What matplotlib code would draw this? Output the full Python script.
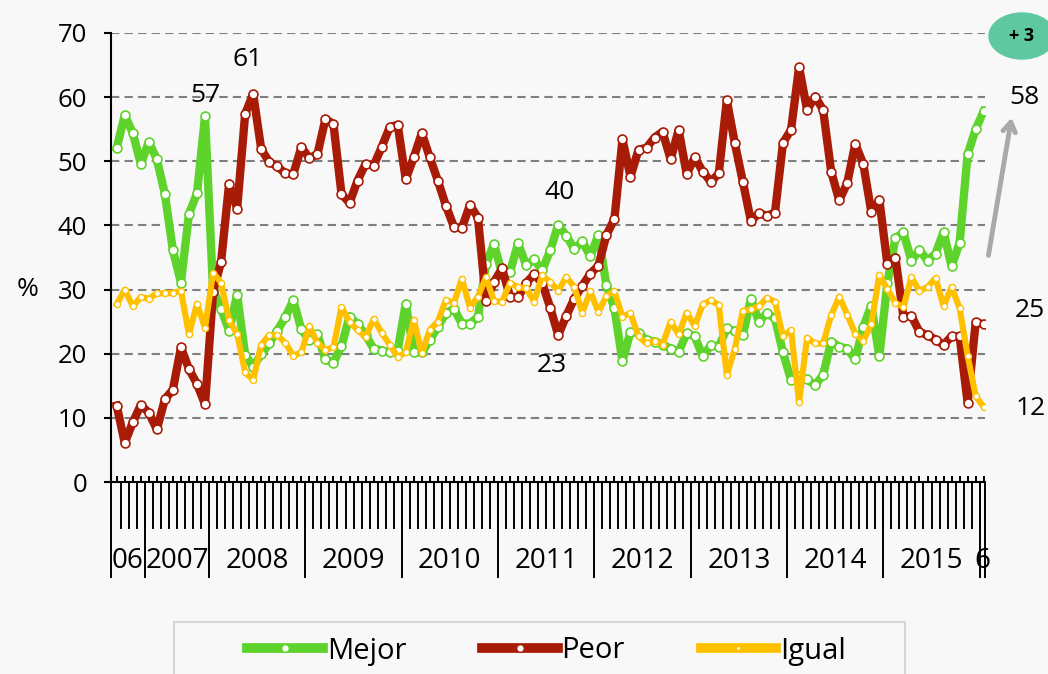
import matplotlib.pyplot as plt
import numpy as np
from matplotlib.lines import Line2D
from matplotlib.patches import Ellipse, Rectangle
from matplotlib.transforms import blended_transform_factory

plt.rcParams['font.family'] = ['Open Sans', 'DejaVu Sans']

# monthly points, Sep 2006 .. Jan 2016 (2007 has only 8 surveys)
year_labels = ['06', '2007', '2008', '2009', '2010', '2011', '2012', '2013', '2014', '2015', '6']
points_per_year = [4, 8, 12, 12, 12, 12, 12, 12, 12, 12, 1]

mejor = [52.1, 57.2, 54.4, 49.6, 53.0, 50.3, 44.9, 36.1, 31.1, 41.8, 45.0, 57.0,
         30.0, 27.0, 23.6, 29.2, 19.8, 18.0, 19.9, 21.6, 23.6, 25.7, 28.3, 23.8,
         22.1, 23.0, 19.1, 18.6, 21.2, 25.8, 24.6, 22.9, 20.8, 20.5, 20.2, 20.5,
         27.8, 20.3, 20.2, 22.1, 24.2, 26.3, 27.0, 24.7, 24.7, 25.7, 34.0, 37.1,
         32.5, 32.8, 37.2, 33.8, 34.7, 33.0, 36.1, 40.1, 38.4, 36.3, 37.5, 35.2,
         38.5, 30.7, 27.1, 18.8, 23.4, 23.2, 22.1, 21.9, 21.4, 20.8, 20.3, 23.2,
         22.7, 19.6, 21.3, 21.1, 24.0, 23.5, 22.9, 28.6, 25.0, 26.3, 25.5, 20.2,
         15.9, 16.5, 16.0, 15.1, 16.7, 21.9, 21.1, 20.8, 19.1, 24.2, 27.5, 19.6,
         31.0, 38.0, 38.9, 34.5, 36.2, 34.5, 35.6, 39.0, 33.6, 37.3, 51.1, 55.0,
         57.8]
peor = [11.9, 6.1, 9.3, 12.0, 10.8, 8.2, 12.9, 14.4, 21.0, 17.6, 15.3, 12.1,
        29.6, 34.3, 46.5, 42.6, 57.4, 60.5, 51.9, 49.9, 49.2, 48.1, 48.0, 52.2,
        50.5, 51.1, 56.6, 55.8, 44.9, 43.5, 47.0, 49.6, 49.3, 52.2, 55.3, 55.7,
        47.2, 50.6, 54.4, 50.6, 47.0, 43.1, 39.8, 39.6, 43.2, 41.2, 28.2, 31.2,
        33.3, 28.9, 28.8, 31.0, 32.4, 31.0, 27.2, 22.9, 25.9, 28.6, 30.6, 32.5,
        33.7, 38.5, 41.0, 53.4, 47.6, 51.8, 52.1, 53.7, 54.6, 50.3, 54.9, 48.0,
        50.6, 48.4, 46.8, 48.1, 59.5, 52.8, 46.8, 40.7, 41.9, 41.5, 42.0, 52.9,
        54.9, 64.7, 58.0, 60.1, 58.0, 48.4, 43.9, 46.6, 52.7, 49.6, 42.1, 44.0,
        34.0, 35.0, 25.8, 25.9, 23.4, 22.9, 22.2, 21.4, 22.7, 22.7, 12.3, 24.9,
        24.6]
igual = [27.7, 30.0, 27.4, 28.8, 28.6, 29.4, 29.4, 29.5, 29.8, 23.0, 27.8, 24.0,
         32.6, 31.1, 25.2, 23.1, 17.1, 15.9, 21.4, 22.9, 22.9, 21.7, 19.7, 20.2,
         24.3, 21.7, 20.6, 21.0, 27.3, 25.0, 23.7, 22.6, 25.4, 23.3, 21.4, 19.5,
         20.2, 25.3, 20.1, 23.7, 25.0, 28.4, 27.9, 31.7, 27.2, 28.9, 31.9, 28.2,
         28.1, 31.0, 30.4, 30.2, 28.1, 32.2, 31.2, 29.8, 32.0, 30.4, 26.4, 29.7,
         26.5, 29.0, 29.7, 25.8, 26.3, 22.7, 21.6, 22.0, 21.4, 25.0, 23.0, 26.4,
         24.3, 27.7, 28.3, 27.6, 16.7, 20.8, 26.7, 26.9, 27.4, 28.7, 28.1, 22.7,
         23.7, 12.4, 22.5, 21.6, 21.6, 26.0, 28.9, 26.1, 23.1, 22.0, 24.6, 32.3,
         30.1, 27.9, 27.3, 31.9, 29.8, 30.4, 31.8, 27.4, 30.4, 27.1, 19.7, 13.4,
         11.7]

GREEN = '#5ed32b'
RED = '#a81c07'
YELLOW = '#ffc000'
BG = '#f8f8f8'

W, H = 1048, 674
fig = plt.figure(figsize=(W / 100, H / 100), dpi=100, facecolor=BG)
ax = fig.add_axes([110.7 / W, (H - 482) / H, 874.6 / W, 449 / H])
ax.set_facecolor(BG)

x = np.arange(len(mejor))
ax.plot(x, mejor, color=GREEN, lw=6, marker='o', ms=6.4, mfc='white', mec=GREEN,
        mew=1.2, solid_joinstyle='round', zorder=3)
ax.plot(x, peor, color=RED, lw=6, marker='o', ms=6.4, mfc='white', mec=RED,
        mew=1.2, solid_joinstyle='round', zorder=4)
ax.plot(x, igual, color=YELLOW, lw=4.4, marker='o', ms=4.4, mfc='white', mec=YELLOW,
        mew=1.0, solid_joinstyle='round', zorder=5)

ax.set_xlim(-0.75, len(mejor) - 0.8)
ax.set_ylim(0, 70)
ax.set_yticks(range(0, 71, 10))
ax.yaxis.grid(True, color='#7f7f7f', lw=1.5, linestyle=(0, (4, 2.5)))
ax.set_axisbelow(True)
for s in ['top', 'right']:
    ax.spines[s].set_visible(False)
for s in ['left', 'bottom']:
    ax.spines[s].set_linewidth(1.5)
    ax.spines[s].set_color('black')
ax.tick_params(axis='y', length=5, width=1.5, pad=12, labelsize=18.5)

# category ticks below, short ticks above at every point
ax.set_xticks(np.arange(len(mejor) - 1) + 0.5)
ax.set_xticklabels([])
ax.tick_params(axis='x', which='major', length=34, width=1.4, direction='out')
ax.set_xticks(x, minor=True)
ax.tick_params(axis='x', which='minor', length=4.5, width=1.4, direction='in')

# year separators and labels
trans = blended_transform_factory(ax.transData, ax.transAxes)
bounds = [-0.75]
for n in points_per_year:
    bounds.append(bounds[-1] + n if len(bounds) > 1 else -0.5 + n)
bounds[-1] = len(mejor) - 0.8
for b in bounds:
    ax.plot([b, b], [0, -95 / 449], color='black', lw=1.4, transform=trans, clip_on=False)
for lab, a, b in zip(year_labels, bounds[:-1], bounds[1:]):
    ax.text((a + b) / 2, -79 / 449, lab, transform=trans, ha='center', va='center',
            fontsize=20)

# value callouts
for xi, yv, txt in [(11.0, 60.3, '57'), (16.35, 65.8, '61'), (55.2, 45.2, '40'),
                    (54.2, 18.2, '23'), (113.1, 59.9, '58'), (113.7, 26.8, '25'),
                    (113.9, 11.5, '12')]:
    ax.text(xi, yv, txt, ha='center', va='center', fontsize=19)

fig.text(28 / W, (H - 290) / H, '%', ha='center', va='center', fontsize=19)

# +3 badge and arrow
fig.add_artist(Ellipse((1022 / W, (H - 36) / H), 66 / W, 46 / H,
                       transform=fig.transFigure, color='#5ec8a0'))
fig.text(1022 / W, (H - 36) / H, '+ 3', ha='center', va='center', fontsize=13,
         fontweight='bold')
ax.annotate('', xy=(1012 / W, (H - 115) / H), xytext=(988 / W, (H - 258) / H),
            xycoords='figure fraction', textcoords='figure fraction',
            arrowprops=dict(arrowstyle='->,head_length=0.7,head_width=0.45',
                            color='#a9a9a9', lw=3.5))

# legend
handles = [
    Line2D([], [], color=GREEN, lw=7, marker='o', ms=5.5, mfc='white', mec=GREEN, mew=1),
    Line2D([], [], color=RED, lw=7, marker='o', ms=5.5, mfc='white', mec=RED, mew=1),
    Line2D([], [], color=YELLOW, lw=7, marker='o', ms=2.5, mfc='white', mec=YELLOW, mew=0.5),
]
fig.legend(handles, ['Mejor', 'Peor', 'Igual'], ncol=3, loc='center',
           bbox_to_anchor=(546.5 / W, (H - 651) / H), frameon=False, fontsize=21,
           handlelength=2.6, columnspacing=2.6, handletextpad=0.12, numpoints=1)
fig.add_artist(Rectangle((174 / W, -0.02), 731 / W, (H - 622) / H + 0.02,
                         transform=fig.transFigure, facecolor='none',
                         edgecolor='#d6d6d6', lw=1.5))

fig.savefig('out.png', dpi=100, facecolor=BG)
